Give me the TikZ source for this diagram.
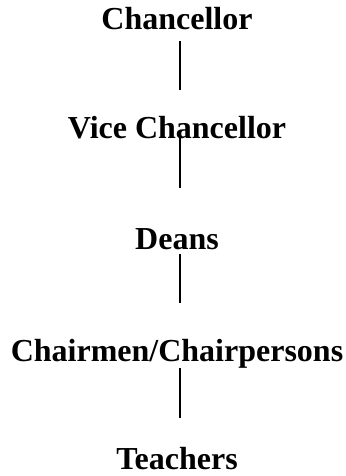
\documentclass[tikz,border=0pt]{standalone}
\usepackage{fontspec}
\setmainfont{Liberation Serif}
\begin{document}
\begin{tikzpicture}[x=0.375pt,y=-0.375pt,
  post/.style={anchor=base,inner sep=0pt,font=\bfseries\fontsize{12}{14}\selectfont},
  link/.style={line width=0.5pt}]
\useasboundingbox (0,0) rectangle (345,476);
% The posts
\node[post] (chan)  at (177,30)  {Chancellor};
\node[post] (vice)  at (177,139) {Vice Chancellor};
\node[post] (deans) at (177,250) {Deans};
\node[post] (chair) at (177,361) {Chairmen/Chairpersons};
\node[post] (teach) at (177,469) {Teachers};

% The links
\foreach \a/\b/\s/\e in {chan/vice/11/-49, vice/deans/-1/-62, deans/chair/4/-58, chair/teach/7/-51} {
  \draw[link] ([shift={(3,\s)}]\a.base) -- ([shift={(3,\e)}]\b.base);
}
\end{tikzpicture}
\end{document}
